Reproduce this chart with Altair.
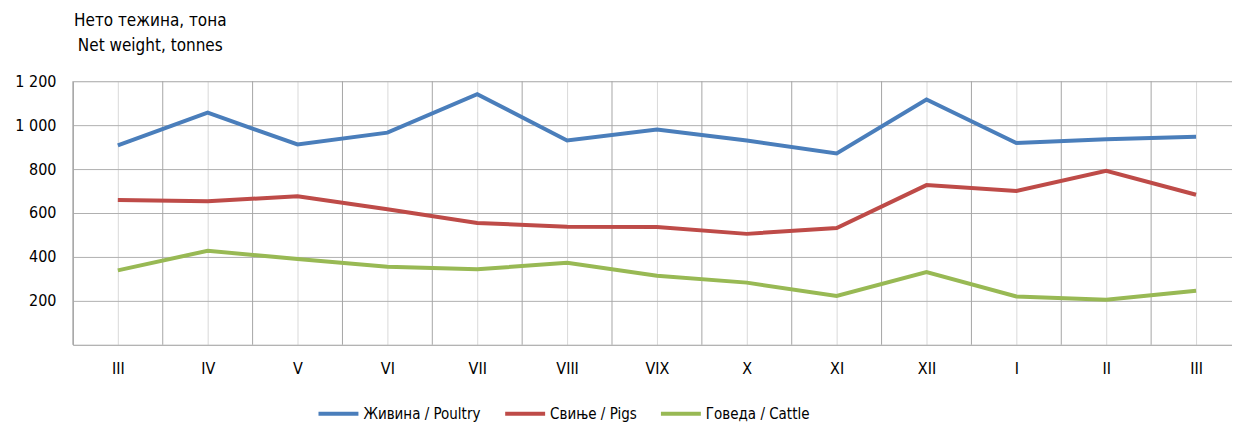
import altair as alt
import pandas as pd

months = ["III", "IV", "V", "VI", "VII", "VIII", "VIX", "X", "XI", "XII", "I", "II", "III"]
poultry = [908, 1057, 912, 966, 1141, 930, 980, 930, 871, 1117, 919, 936, 947]
pigs = [659, 654, 676, 617, 555, 537, 536, 505, 532, 727, 700, 792, 683]
cattle = [339, 428, 391, 355, 344, 373, 314, 283, 222, 331, 220, 205, 246]
series_names = ["Живина / Poultry", "Свиње / Pigs", "Говеда / Cattle"]
series_colors = ["#4a7ebb", "#be4b48", "#98b954"]
boundaries = [i - 0.5 for i in range(13)]

rows = []
for name, vals in zip(series_names, [poultry, pigs, cattle]):
    for i, v in enumerate(vals):
        rows.append({"idx": i, "month": months[i], "series": name, "value": v})
df = pd.DataFrame(rows)
bdf = pd.DataFrame({"b": boundaries})

FONT = "Liberation Sans Narrow, Arial Narrow, DejaVu Sans Condensed, Liberation Sans, Arial, sans-serif"
label_arr = "[" + ",".join(f"'{m}'" for m in months) + "]"

xscale = alt.Scale(domain=[-0.5, 12.4], nice=False, zero=False)
yscale = alt.Scale(domain=[0, 1200], nice=False)

xaxis = alt.Axis(values=list(range(13)), labelExpr=f"{label_arr}[datum.value]",
                 title=None, ticks=False, grid=True, gridColor="#d9d9d9",
                 domainColor="#a6a6a6", labelPadding=16, labelFontSize=16,
                 labelFont=FONT, labelColor="#000000")

rules = alt.Chart(bdf).mark_rule(color="#a6a6a6", strokeWidth=1).encode(
    x=alt.X("b:Q", scale=xscale, axis=xaxis),
    y=alt.datum(0, scale=yscale),
    y2=alt.datum(1200),
)

lines = alt.Chart(df).mark_line(strokeWidth=4).encode(
    x=alt.X("idx:Q", scale=xscale, axis=xaxis),
    y=alt.Y("value:Q", scale=yscale,
            axis=alt.Axis(values=[200, 400, 600, 800, 1000, 1200],
                          labelExpr="replace(format(datum.value, ','), ',', ' ')",
                          ticks=False, grid=True, gridColor="#b0b0b0",
                          domainColor="#a6a6a6", labelPadding=17, labelFontSize=16,
                          labelFont=FONT, labelColor="#000000",
                          title=["Нето тежина, тона", "Net weight, tonnes"],
                          titleAngle=0, titleAlign="center", titleBaseline="bottom",
                          titleX=77, titleY=-52, titleFont=FONT, titleFontSize=17,
                          titleFontWeight="normal", titleLineHeight=25, titleColor="#000000")),
    color=alt.Color("series:N",
                    scale=alt.Scale(domain=series_names, range=series_colors),
                    legend=alt.Legend(title=None, orient="none", direction="horizontal",
                                      legendX=244, legendY=311, symbolType="stroke",
                                      symbolSize=1600, symbolStrokeWidth=4,
                                      labelFont=FONT, labelFontSize=15, labelColor="#000000",
                                      labelOffset=3, columnPadding=16)),
    order=alt.Order("idx:Q"),
)

chart = alt.layer(rules, lines).properties(
    width=1161, height=264,
    autosize=alt.AutoSizeParams(type="none"),
    padding={"left": 65, "top": 73, "right": 0, "bottom": 78},
).configure_view(stroke=None).configure(background="#ffffff")

chart.save("out.html", embed_options={"renderer": "svg", "actions": False})
